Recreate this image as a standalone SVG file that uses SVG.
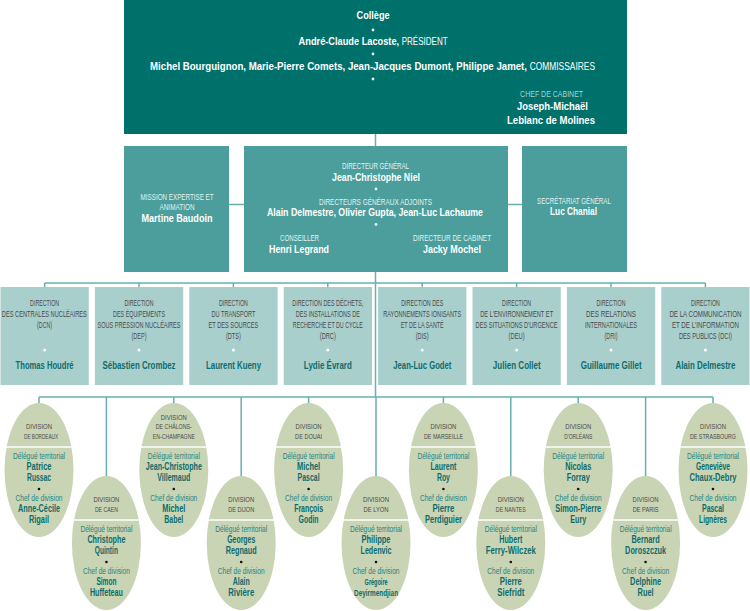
<svg xmlns="http://www.w3.org/2000/svg" width="750" height="611" viewBox="0 0 750 611">
<style>
text{font-family:"Liberation Sans",Arial,sans-serif;text-anchor:middle;transform-box:fill-box;transform-origin:center;transform:scaleX(0.7)}
.w{fill:#fff}
.bn{font-weight:bold;font-size:11.5px;fill:#fff}
.rc{font-weight:normal;font-size:10px;fill:#fff}
.cc{font-size:8.5px;fill:#a3d6d1}
.ml{font-size:8.5px;fill:#e2f1ef}
.mn{font-weight:bold;font-size:10.5px;fill:#fff}
.dl{font-size:8.5px;fill:#4a4a4a}
.dn{font-weight:bold;font-size:11px;fill:#0e6d6d}
.vl{font-size:8px;fill:#4a4a4a}
.vr{font-size:9px;fill:#1f8585}
.vn{font-weight:bold;font-size:10px;fill:#0e6b6b}
.top{fill:#00706b}
.mid{fill:#4b9e9b}
.dir{fill:#a9cfcc}
.ell{fill:#c8d4b4}
.sep{stroke:#fff;stroke-width:1.5}
.wd{fill:#e6f2f1}
.kd{fill:#111}
.con{stroke:#66b0b0;stroke-width:1.5;fill:none}
</style>
<g id="connectors" class="con">
<line x1="375.5" y1="134" x2="375.5" y2="146"/>
<line x1="229" y1="204.5" x2="244" y2="204.5"/>
<line x1="508" y1="204.5" x2="522" y2="204.5"/>
<line x1="375.5" y1="272" x2="375.5" y2="397"/>
<line x1="44.6" y1="283" x2="705.4" y2="283"/>
<line x1="44.6" y1="283" x2="44.6" y2="287"/>
<line x1="139" y1="283" x2="139" y2="287"/>
<line x1="233.4" y1="283" x2="233.4" y2="287"/>
<line x1="327.8" y1="283" x2="327.8" y2="287"/>
<line x1="422.2" y1="283" x2="422.2" y2="287"/>
<line x1="516.6" y1="283" x2="516.6" y2="287"/>
<line x1="611" y1="283" x2="611" y2="287"/>
<line x1="705.4" y1="283" x2="705.4" y2="287"/>
<line x1="39" y1="397" x2="713" y2="397"/>
<line x1="39" y1="397" x2="39" y2="403"/>
<line x1="106.4" y1="397" x2="106.4" y2="477"/>
<line x1="173.8" y1="397" x2="173.8" y2="403"/>
<line x1="241.2" y1="397" x2="241.2" y2="477"/>
<line x1="308.6" y1="397" x2="308.6" y2="403"/>
<line x1="376" y1="397" x2="376" y2="477"/>
<line x1="443.4" y1="397" x2="443.4" y2="403"/>
<line x1="510.8" y1="397" x2="510.8" y2="477"/>
<line x1="578.2" y1="397" x2="578.2" y2="403"/>
<line x1="645.6" y1="397" x2="645.6" y2="477"/>
<line x1="713" y1="397" x2="713" y2="403"/>
</g>
<g id="college">
<rect class="top" x="124" y="0" width="503" height="134"/>
<text x="373" y="19.5" class="bn" textLength="47.1" lengthAdjust="spacingAndGlyphs">Collège</text>
<circle class="wd" cx="373" cy="30" r="1.4"/>
<text x="373" y="45.5" class="bn" textLength="212.9" lengthAdjust="spacingAndGlyphs">André-Claude Lacoste, <tspan class="rc">PRÉSIDENT</tspan></text>
<circle class="wd" cx="373" cy="54" r="1.4"/>
<text x="372.5" y="70.5" class="bn" textLength="635.7" lengthAdjust="spacingAndGlyphs">Michel Bourguignon, Marie-Pierre Comets, Jean-Jacques Dumont, Philippe Jamet, <tspan class="rc">COMMISSAIRES</tspan></text>
<circle class="wd" cx="373" cy="79" r="1.4"/>
<text x="551.5" y="97" class="cc" textLength="90" lengthAdjust="spacingAndGlyphs">CHEF DE CABINET</text>
<text x="552.5" y="110.5" class="mn" textLength="101.4" lengthAdjust="spacingAndGlyphs">Joseph-Michaël</text>
<text x="551" y="124" class="mn" textLength="125.7" lengthAdjust="spacingAndGlyphs">Leblanc de Molines</text>
</g>
<g id="mission">
<rect class="mid" x="124" y="146" width="105" height="126"/>
<text x="177" y="200" class="ml" textLength="104.3" lengthAdjust="spacingAndGlyphs">MISSION EXPERTISE ET</text>
<text x="177" y="210.5" class="ml" textLength="50" lengthAdjust="spacingAndGlyphs">ANIMATION</text>
<text x="177" y="222" class="mn" textLength="101.4" lengthAdjust="spacingAndGlyphs">Martine Baudoin</text>
</g>
<g id="direction-generale">
<rect class="mid" x="244" y="146" width="264" height="126"/>
<text x="375.5" y="169" class="ml" textLength="95.7" lengthAdjust="spacingAndGlyphs">DIRECTEUR GÉNÉRAL</text>
<text x="376" y="181" class="mn" textLength="125.7" lengthAdjust="spacingAndGlyphs">Jean-Christophe Niel</text>
<circle class="wd" cx="376" cy="189" r="1.4"/>
<text x="375.5" y="205" class="ml" textLength="161.4" lengthAdjust="spacingAndGlyphs">DIRECTEURS GÉNÉRAUX ADJOINTS</text>
<text x="375" y="216.5" class="mn" textLength="308.6" lengthAdjust="spacingAndGlyphs">Alain Delmestre, Olivier Gupta, Jean-Luc Lachaume</text>
<circle class="wd" cx="376" cy="224.5" r="1.4"/>
<text x="299.5" y="241.5" class="ml" textLength="55.7" lengthAdjust="spacingAndGlyphs">CONSEILLER</text>
<text x="299" y="253" class="mn" textLength="85.7" lengthAdjust="spacingAndGlyphs">Henri Legrand</text>
<text x="452" y="241.5" class="ml" textLength="111.4" lengthAdjust="spacingAndGlyphs">DIRECTEUR DE CABINET</text>
<text x="452" y="253" class="mn" textLength="82.9" lengthAdjust="spacingAndGlyphs">Jacky Mochel</text>
</g>
<g id="secretariat">
<rect class="mid" x="522" y="146" width="105" height="126"/>
<text x="574" y="204" class="ml" textLength="105.7" lengthAdjust="spacingAndGlyphs">SECRÉTARIAT GÉNÉRAL</text>
<text x="573.5" y="215.5" class="mn" textLength="67.1" lengthAdjust="spacingAndGlyphs">Luc Chanial</text>
</g>
<g id="dcn">
<rect class="dir" x="0.5" y="287" width="88.3" height="98"/>
<text x="44.6" y="306" class="dl" textLength="41.4" lengthAdjust="spacingAndGlyphs">DIRECTION</text>
<text x="44.3" y="317" class="dl" textLength="121.4" lengthAdjust="spacingAndGlyphs">DES CENTRALES NUCLÉAIRES</text>
<text x="44.6" y="328" class="dl" textLength="21.4" lengthAdjust="spacingAndGlyphs">(DCN)</text>
<circle class="w" cx="44.6" cy="350" r="1.5"/>
<text x="44.6" y="369.5" class="dn" textLength="82.9" lengthAdjust="spacingAndGlyphs">Thomas Houdré</text>
</g>
<g id="dep">
<rect class="dir" x="94.9" y="287" width="88.3" height="98"/>
<text x="139" y="306" class="dl" textLength="41.4" lengthAdjust="spacingAndGlyphs">DIRECTION</text>
<text x="139" y="317" class="dl" textLength="74.3" lengthAdjust="spacingAndGlyphs">DES ÉQUIPEMENTS</text>
<text x="139" y="328" class="dl" textLength="118.6" lengthAdjust="spacingAndGlyphs">SOUS PRESSION NUCLÉAIRES</text>
<text x="139" y="339" class="dl" textLength="21.4" lengthAdjust="spacingAndGlyphs">(DEP)</text>
<circle class="w" cx="139" cy="350" r="1.5"/>
<text x="139" y="369.5" class="dn" textLength="104.3" lengthAdjust="spacingAndGlyphs">Sébastien Crombez</text>
</g>
<g id="dts">
<rect class="dir" x="189.3" y="287" width="88.3" height="98"/>
<text x="233.4" y="306" class="dl" textLength="41.4" lengthAdjust="spacingAndGlyphs">DIRECTION</text>
<text x="233.4" y="317" class="dl" textLength="62.9" lengthAdjust="spacingAndGlyphs">DU TRANSPORT</text>
<text x="233.4" y="328" class="dl" textLength="71.4" lengthAdjust="spacingAndGlyphs">ET DES SOURCES</text>
<text x="233.4" y="339" class="dl" textLength="21.4" lengthAdjust="spacingAndGlyphs">(DTS)</text>
<circle class="w" cx="233.4" cy="350" r="1.5"/>
<text x="233.4" y="369.5" class="dn" textLength="78.6" lengthAdjust="spacingAndGlyphs">Laurent Kueny</text>
</g>
<g id="drc">
<rect class="dir" x="283.7" y="287" width="88.3" height="98"/>
<text x="327.8" y="306" class="dl" textLength="101.4" lengthAdjust="spacingAndGlyphs">DIRECTION DES DÉCHETS,</text>
<text x="327.8" y="317" class="dl" textLength="91.4" lengthAdjust="spacingAndGlyphs">DES INSTALLATIONS DE</text>
<text x="327.8" y="328" class="dl" textLength="100" lengthAdjust="spacingAndGlyphs">RECHERCHE ET DU CYCLE</text>
<text x="327.8" y="339" class="dl" textLength="22.9" lengthAdjust="spacingAndGlyphs">(DRC)</text>
<circle class="w" cx="327.8" cy="350" r="1.5"/>
<text x="327.8" y="369.5" class="dn" textLength="68.6" lengthAdjust="spacingAndGlyphs">Lydie Évrard</text>
</g>
<g id="dis">
<rect class="dir" x="378.1" y="287" width="88.3" height="98"/>
<text x="422.2" y="306" class="dl" textLength="60" lengthAdjust="spacingAndGlyphs">DIRECTION DES</text>
<text x="422.2" y="317" class="dl" textLength="111.4" lengthAdjust="spacingAndGlyphs">RAYONNEMENTS IONISANTS</text>
<text x="422.2" y="328" class="dl" textLength="61.4" lengthAdjust="spacingAndGlyphs">ET DE LA SANTÉ</text>
<text x="422.2" y="339" class="dl" textLength="18.6" lengthAdjust="spacingAndGlyphs">(DIS)</text>
<circle class="w" cx="422.2" cy="350" r="1.5"/>
<text x="422.2" y="369.5" class="dn" textLength="82.9" lengthAdjust="spacingAndGlyphs">Jean-Luc Godet</text>
</g>
<g id="deu">
<rect class="dir" x="472.5" y="287" width="88.3" height="98"/>
<text x="516.6" y="306" class="dl" textLength="41.4" lengthAdjust="spacingAndGlyphs">DIRECTION</text>
<text x="516.6" y="317" class="dl" textLength="104.3" lengthAdjust="spacingAndGlyphs">DE L'ENVIRONNEMENT ET</text>
<text x="516.6" y="328" class="dl" textLength="117.1" lengthAdjust="spacingAndGlyphs">DES SITUATIONS D'URGENCE</text>
<text x="516.6" y="339" class="dl" textLength="22.9" lengthAdjust="spacingAndGlyphs">(DEU)</text>
<circle class="w" cx="516.6" cy="350" r="1.5"/>
<text x="516.6" y="369.5" class="dn" textLength="68.6" lengthAdjust="spacingAndGlyphs">Julien Collet</text>
</g>
<g id="dri">
<rect class="dir" x="566.9" y="287" width="88.3" height="98"/>
<text x="611" y="306" class="dl" textLength="41.4" lengthAdjust="spacingAndGlyphs">DIRECTION</text>
<text x="611" y="317" class="dl" textLength="71.4" lengthAdjust="spacingAndGlyphs">DES RELATIONS</text>
<text x="611" y="328" class="dl" textLength="74.3" lengthAdjust="spacingAndGlyphs">INTERNATIONALES</text>
<text x="611" y="339" class="dl" textLength="18.6" lengthAdjust="spacingAndGlyphs">(DRI)</text>
<circle class="w" cx="611" cy="350" r="1.5"/>
<text x="611" y="369.5" class="dn" textLength="87.1" lengthAdjust="spacingAndGlyphs">Guillaume Gillet</text>
</g>
<g id="dci">
<rect class="dir" x="661.3" y="287" width="88.3" height="98"/>
<text x="705.4" y="306" class="dl" textLength="41.4" lengthAdjust="spacingAndGlyphs">DIRECTION</text>
<text x="705.4" y="317" class="dl" textLength="102.9" lengthAdjust="spacingAndGlyphs">DE LA COMMUNICATION</text>
<text x="705.4" y="328" class="dl" textLength="95.7" lengthAdjust="spacingAndGlyphs">ET DE L'INFORMATION</text>
<text x="705.4" y="339" class="dl" textLength="75.7" lengthAdjust="spacingAndGlyphs">DES PUBLICS (DCI)</text>
<circle class="w" cx="705.4" cy="350" r="1.5"/>
<text x="705.4" y="369.5" class="dn" textLength="85.7" lengthAdjust="spacingAndGlyphs">Alain Delmestre</text>
</g>
<g id="div-bordeaux">
<ellipse class="ell" cx="39" cy="470" rx="34.5" ry="67"/>
<line class="sep" x1="6" y1="447" x2="72" y2="447"/>
<text x="39" y="429" class="vl" textLength="37.1" lengthAdjust="spacingAndGlyphs">DIVISION</text>
<text x="41" y="439" class="vl" textLength="48.6" lengthAdjust="spacingAndGlyphs">DE BORDEAUX</text>
<text x="39" y="459" class="vr" textLength="74.3" lengthAdjust="spacingAndGlyphs">Délégué territorial</text>
<text x="39" y="470" class="vn" textLength="35.7" lengthAdjust="spacingAndGlyphs">Patrice</text>
<text x="39" y="481" class="vn" textLength="34.3" lengthAdjust="spacingAndGlyphs">Russac</text>
<circle class="kd" cx="39" cy="489" r="1.3"/>
<text x="39" y="501.5" class="vr" textLength="67.1" lengthAdjust="spacingAndGlyphs">Chef de division</text>
<text x="39" y="512.5" class="vn" textLength="60" lengthAdjust="spacingAndGlyphs">Anne-Cécile</text>
<text x="39" y="523.5" class="vn" textLength="28.6" lengthAdjust="spacingAndGlyphs">Rigail</text>
</g>
<g id="div-caen">
<ellipse class="ell" cx="106.4" cy="543" rx="34.5" ry="67"/>
<line class="sep" x1="73.4" y1="520" x2="139.4" y2="520"/>
<text x="106.4" y="502" class="vl" textLength="37.1" lengthAdjust="spacingAndGlyphs">DIVISION</text>
<text x="106.4" y="512" class="vl" textLength="32.9" lengthAdjust="spacingAndGlyphs">DE CAEN</text>
<text x="106.4" y="532" class="vr" textLength="74.3" lengthAdjust="spacingAndGlyphs">Délégué territorial</text>
<text x="106.4" y="543" class="vn" textLength="54.3" lengthAdjust="spacingAndGlyphs">Christophe</text>
<text x="106.4" y="554" class="vn" textLength="32.9" lengthAdjust="spacingAndGlyphs">Quintin</text>
<circle class="kd" cx="106.4" cy="562" r="1.3"/>
<text x="106.4" y="574.5" class="vr" textLength="67.1" lengthAdjust="spacingAndGlyphs">Chef de division</text>
<text x="106.4" y="585.5" class="vn" textLength="28.6" lengthAdjust="spacingAndGlyphs">Simon</text>
<text x="106.4" y="596.5" class="vn" textLength="47.1" lengthAdjust="spacingAndGlyphs">Huffeteau</text>
</g>
<g id="div-chalons">
<ellipse class="ell" cx="173.8" cy="470" rx="34.5" ry="67"/>
<line class="sep" x1="140.8" y1="447" x2="206.8" y2="447"/>
<text x="173.8" y="420" class="vl" textLength="37.1" lengthAdjust="spacingAndGlyphs">DIVISION</text>
<text x="173.8" y="429.5" class="vl" textLength="51.4" lengthAdjust="spacingAndGlyphs">DE CHÂLONS-</text>
<text x="173.8" y="439" class="vl" textLength="60" lengthAdjust="spacingAndGlyphs">EN-CHAMPAGNE</text>
<text x="173.8" y="459" class="vr" textLength="74.3" lengthAdjust="spacingAndGlyphs">Délégué territorial</text>
<text x="173.8" y="470" class="vn" textLength="80" lengthAdjust="spacingAndGlyphs">Jean-Christophe</text>
<text x="173.8" y="481" class="vn" textLength="47.1" lengthAdjust="spacingAndGlyphs">Villemaud</text>
<circle class="kd" cx="173.8" cy="489" r="1.3"/>
<text x="173.8" y="501.5" class="vr" textLength="67.1" lengthAdjust="spacingAndGlyphs">Chef de division</text>
<text x="173.8" y="512.5" class="vn" textLength="32.9" lengthAdjust="spacingAndGlyphs">Michel</text>
<text x="173.8" y="523.5" class="vn" textLength="27.1" lengthAdjust="spacingAndGlyphs">Babel</text>
</g>
<g id="div-dijon">
<ellipse class="ell" cx="241.2" cy="543" rx="34.5" ry="67"/>
<line class="sep" x1="208.2" y1="520" x2="274.2" y2="520"/>
<text x="241.2" y="502" class="vl" textLength="37.1" lengthAdjust="spacingAndGlyphs">DIVISION</text>
<text x="241.2" y="512" class="vl" textLength="37.1" lengthAdjust="spacingAndGlyphs">DE DIJON</text>
<text x="241.2" y="532" class="vr" textLength="74.3" lengthAdjust="spacingAndGlyphs">Délégué territorial</text>
<text x="241.2" y="543" class="vn" textLength="40" lengthAdjust="spacingAndGlyphs">Georges</text>
<text x="241.2" y="554" class="vn" textLength="44.3" lengthAdjust="spacingAndGlyphs">Regnaud</text>
<circle class="kd" cx="241.2" cy="562" r="1.3"/>
<text x="241.2" y="574.5" class="vr" textLength="67.1" lengthAdjust="spacingAndGlyphs">Chef de division</text>
<text x="241.2" y="585.5" class="vn" textLength="24.3" lengthAdjust="spacingAndGlyphs">Alain</text>
<text x="241.2" y="596.5" class="vn" textLength="37.1" lengthAdjust="spacingAndGlyphs">Rivière</text>
</g>
<g id="div-douai">
<ellipse class="ell" cx="308.6" cy="470" rx="34.5" ry="67"/>
<line class="sep" x1="275.6" y1="447" x2="341.6" y2="447"/>
<text x="308.6" y="429" class="vl" textLength="37.1" lengthAdjust="spacingAndGlyphs">DIVISION</text>
<text x="308.6" y="439" class="vl" textLength="38.6" lengthAdjust="spacingAndGlyphs">DE DOUAI</text>
<text x="308.6" y="459" class="vr" textLength="74.3" lengthAdjust="spacingAndGlyphs">Délégué territorial</text>
<text x="308.6" y="470" class="vn" textLength="32.9" lengthAdjust="spacingAndGlyphs">Michel</text>
<text x="308.6" y="481" class="vn" textLength="31.4" lengthAdjust="spacingAndGlyphs">Pascal</text>
<circle class="kd" cx="308.6" cy="489" r="1.3"/>
<text x="308.6" y="501.5" class="vr" textLength="67.1" lengthAdjust="spacingAndGlyphs">Chef de division</text>
<text x="308.6" y="512.5" class="vn" textLength="41.4" lengthAdjust="spacingAndGlyphs">François</text>
<text x="308.6" y="523.5" class="vn" textLength="28.6" lengthAdjust="spacingAndGlyphs">Godin</text>
</g>
<g id="div-lyon">
<ellipse class="ell" cx="376" cy="543" rx="34.5" ry="67"/>
<line class="sep" x1="343" y1="520" x2="409" y2="520"/>
<text x="376" y="502" class="vl" textLength="37.1" lengthAdjust="spacingAndGlyphs">DIVISION</text>
<text x="376" y="512" class="vl" textLength="35.7" lengthAdjust="spacingAndGlyphs">DE LYON</text>
<text x="376" y="532" class="vr" textLength="74.3" lengthAdjust="spacingAndGlyphs">Délégué territorial</text>
<text x="376" y="543" class="vn" textLength="41.4" lengthAdjust="spacingAndGlyphs">Philippe</text>
<text x="376" y="554" class="vn" textLength="44.3" lengthAdjust="spacingAndGlyphs">Ledenvic</text>
<circle class="kd" cx="376" cy="562" r="1.3"/>
<text x="376" y="574.5" class="vr" textLength="67.1" lengthAdjust="spacingAndGlyphs">Chef de division</text>
<text x="376" y="585.5" class="vn" style="font-size:9px" textLength="32.9" lengthAdjust="spacingAndGlyphs">Grégoire</text>
<text x="376" y="596.5" class="vn" style="font-size:9px" textLength="62.9" lengthAdjust="spacingAndGlyphs">Deyirmendjian</text>
</g>
<g id="div-marseille">
<ellipse class="ell" cx="443.4" cy="470" rx="34.5" ry="67"/>
<line class="sep" x1="410.4" y1="447" x2="476.4" y2="447"/>
<text x="443.4" y="429" class="vl" textLength="37.1" lengthAdjust="spacingAndGlyphs">DIVISION</text>
<text x="443.4" y="439" class="vl" textLength="55.7" lengthAdjust="spacingAndGlyphs">DE MARSEILLE</text>
<text x="443.4" y="459" class="vr" textLength="74.3" lengthAdjust="spacingAndGlyphs">Délégué territorial</text>
<text x="443.4" y="470" class="vn" textLength="37.1" lengthAdjust="spacingAndGlyphs">Laurent</text>
<text x="443.4" y="481" class="vn" textLength="18.6" lengthAdjust="spacingAndGlyphs">Roy</text>
<circle class="kd" cx="443.4" cy="489" r="1.3"/>
<text x="443.4" y="501.5" class="vr" textLength="67.1" lengthAdjust="spacingAndGlyphs">Chef de division</text>
<text x="443.4" y="512.5" class="vn" textLength="31.4" lengthAdjust="spacingAndGlyphs">Pierre</text>
<text x="443.4" y="523.5" class="vn" textLength="52.9" lengthAdjust="spacingAndGlyphs">Perdiguier</text>
</g>
<g id="div-nantes">
<ellipse class="ell" cx="510.8" cy="543" rx="34.5" ry="67"/>
<line class="sep" x1="477.8" y1="520" x2="543.8" y2="520"/>
<text x="510.8" y="502" class="vl" textLength="37.1" lengthAdjust="spacingAndGlyphs">DIVISION</text>
<text x="510.8" y="512" class="vl" textLength="42.9" lengthAdjust="spacingAndGlyphs">DE NANTES</text>
<text x="510.8" y="532" class="vr" textLength="74.3" lengthAdjust="spacingAndGlyphs">Délégué territorial</text>
<text x="510.8" y="543" class="vn" textLength="32.9" lengthAdjust="spacingAndGlyphs">Hubert</text>
<text x="510.8" y="554" class="vn" textLength="71.4" lengthAdjust="spacingAndGlyphs">Ferry-Wilczek</text>
<circle class="kd" cx="510.8" cy="562" r="1.3"/>
<text x="510.8" y="574.5" class="vr" textLength="67.1" lengthAdjust="spacingAndGlyphs">Chef de division</text>
<text x="510.8" y="585.5" class="vn" textLength="31.4" lengthAdjust="spacingAndGlyphs">Pierre</text>
<text x="510.8" y="596.5" class="vn" textLength="38.6" lengthAdjust="spacingAndGlyphs">Siefridt</text>
</g>
<g id="div-orleans">
<ellipse class="ell" cx="578.2" cy="470" rx="34.5" ry="67"/>
<line class="sep" x1="545.2" y1="447" x2="611.2" y2="447"/>
<text x="578.2" y="429" class="vl" textLength="37.1" lengthAdjust="spacingAndGlyphs">DIVISION</text>
<text x="578.2" y="439" class="vl" textLength="40" lengthAdjust="spacingAndGlyphs">D'ORLÉANS</text>
<text x="578.2" y="459" class="vr" textLength="74.3" lengthAdjust="spacingAndGlyphs">Délégué territorial</text>
<text x="578.2" y="470" class="vn" textLength="37.1" lengthAdjust="spacingAndGlyphs">Nicolas</text>
<text x="578.2" y="481" class="vn" textLength="32.9" lengthAdjust="spacingAndGlyphs">Forray</text>
<circle class="kd" cx="578.2" cy="489" r="1.3"/>
<text x="578.2" y="501.5" class="vr" textLength="67.1" lengthAdjust="spacingAndGlyphs">Chef de division</text>
<text x="578.2" y="512.5" class="vn" textLength="65.7" lengthAdjust="spacingAndGlyphs">Simon-Pierre</text>
<text x="578.2" y="523.5" class="vn" textLength="22.9" lengthAdjust="spacingAndGlyphs">Eury</text>
</g>
<g id="div-paris">
<ellipse class="ell" cx="645.6" cy="543" rx="34.5" ry="67"/>
<line class="sep" x1="612.6" y1="520" x2="678.6" y2="520"/>
<text x="645.6" y="502" class="vl" textLength="37.1" lengthAdjust="spacingAndGlyphs">DIVISION</text>
<text x="645.6" y="512" class="vl" textLength="37.1" lengthAdjust="spacingAndGlyphs">DE PARIS</text>
<text x="645.6" y="532" class="vr" textLength="74.3" lengthAdjust="spacingAndGlyphs">Délégué territorial</text>
<text x="645.6" y="543" class="vn" textLength="40" lengthAdjust="spacingAndGlyphs">Bernard</text>
<text x="645.6" y="554" class="vn" textLength="58.6" lengthAdjust="spacingAndGlyphs">Doroszczuk</text>
<circle class="kd" cx="645.6" cy="562" r="1.3"/>
<text x="645.6" y="574.5" class="vr" textLength="67.1" lengthAdjust="spacingAndGlyphs">Chef de division</text>
<text x="645.6" y="585.5" class="vn" textLength="44.3" lengthAdjust="spacingAndGlyphs">Delphine</text>
<text x="645.6" y="596.5" class="vn" textLength="22.9" lengthAdjust="spacingAndGlyphs">Ruel</text>
</g>
<g id="div-strasbourg">
<ellipse class="ell" cx="713" cy="470" rx="34.5" ry="67"/>
<line class="sep" x1="680" y1="447" x2="746" y2="447"/>
<text x="713" y="429" class="vl" textLength="37.1" lengthAdjust="spacingAndGlyphs">DIVISION</text>
<text x="713" y="439" class="vl" textLength="65.7" lengthAdjust="spacingAndGlyphs">DE STRASBOURG</text>
<text x="713" y="459" class="vr" textLength="74.3" lengthAdjust="spacingAndGlyphs">Délégué territorial</text>
<text x="713" y="470" class="vn" textLength="48.6" lengthAdjust="spacingAndGlyphs">Geneviève</text>
<text x="713" y="481" class="vn" textLength="67.1" lengthAdjust="spacingAndGlyphs">Chaux-Debry</text>
<circle class="kd" cx="713" cy="489" r="1.3"/>
<text x="713" y="501.5" class="vr" textLength="67.1" lengthAdjust="spacingAndGlyphs">Chef de division</text>
<text x="713" y="512.5" class="vn" textLength="31.4" lengthAdjust="spacingAndGlyphs">Pascal</text>
<text x="713" y="523.5" class="vn" textLength="40" lengthAdjust="spacingAndGlyphs">Lignères</text>
</g>
</svg>
